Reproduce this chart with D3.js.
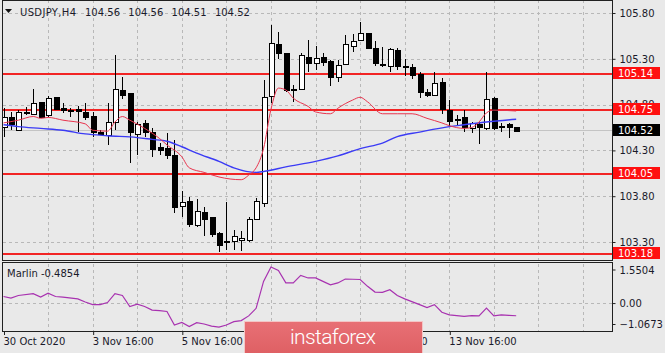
<!DOCTYPE html>
<html lang="en">
<head>
<meta charset="utf-8" />
<title>USDJPY H4</title>
<script src="https://cdnjs.cloudflare.com/ajax/libs/d3/7.8.5/d3.min.js"></script>
<style>
    body { margin: 0; background: #e9e9e9; }
    svg text { font-family: "DejaVu Sans", sans-serif; font-size: 10px; fill: #1a1a2a; }
    .crisp { shape-rendering: crispEdges; }
</style>
</head>
<body>
<script>
    // candles, one per H4 bar
    const opens  = [104.559,104.668,104.530,104.720,104.705,104.828,104.679,104.880,104.760,104.742,
                    104.749,104.716,104.676,104.504,104.468,104.607,104.959,104.923,104.479,104.602,
                    104.504,104.334,104.330,104.250,103.693,103.751,103.486,103.624,103.570,103.402,
                    103.311,103.314,103.314,103.322,103.551,103.729,104.894,105.462,105.360,104.970,
                    104.967,105.323,105.251,105.316,105.276,105.105,105.240,105.443,105.505,105.578,
                    105.415,105.245,105.221,105.396,105.221,105.214,105.134,104.934,104.905,105.043,
                    104.741,104.640,104.661,104.552,104.588,104.541,104.875,104.570,104.588,104.560];
    const highs  = [104.760,104.723,104.741,104.777,104.967,104.832,104.894,104.886,104.821,104.766,
                    104.788,104.814,104.723,104.523,104.814,105.341,105.098,104.930,104.613,104.632,
                    104.541,104.377,104.487,104.414,103.857,103.795,103.766,103.685,103.576,103.410,
                    103.740,103.431,103.424,103.576,103.777,105.069,105.669,105.596,105.360,105.014,
                    105.360,105.505,105.440,105.367,105.287,105.287,105.560,105.571,105.705,105.580,
                    105.498,105.432,105.415,105.415,105.295,105.240,105.159,104.967,105.159,105.094,
                    104.850,104.686,104.741,104.613,104.613,105.159,104.886,104.602,104.596,104.560];
    const lows   = [104.450,104.523,104.523,104.686,104.697,104.650,104.668,104.741,104.712,104.668,
                    104.498,104.632,104.443,104.479,104.359,104.523,104.858,104.159,104.250,104.450,
                    104.225,104.250,104.206,103.620,103.576,103.467,103.467,103.365,103.358,103.190,
                    103.213,103.213,103.205,103.303,103.540,103.685,104.814,105.295,104.941,104.832,
                    104.959,105.159,105.178,105.221,105.006,105.050,105.232,105.378,105.498,105.404,
                    105.221,105.214,105.159,105.178,105.112,105.076,104.875,104.880,104.894,104.697,
                    104.559,104.577,104.504,104.493,104.370,104.523,104.523,104.504,104.432,104.510];
    const closes = [104.668,104.588,104.723,104.715,104.821,104.668,104.869,104.752,104.733,104.738,
                    104.723,104.661,104.501,104.487,104.607,104.967,104.905,104.493,104.588,104.504,
                    104.323,104.304,104.257,103.685,103.733,103.497,103.642,103.548,103.387,103.267,
                    103.297,103.366,103.340,103.551,103.748,104.886,105.476,105.360,104.959,104.966,
                    105.341,105.257,105.305,105.257,105.105,105.232,105.462,105.494,105.585,105.415,
                    105.251,105.240,105.404,105.221,105.207,105.123,104.941,104.901,105.033,104.749,
                    104.624,104.635,104.552,104.602,104.552,104.858,104.552,104.566,104.552,104.520];

    // moving averages (bar index, price)
    const maFastBars = [0,2,4,5,6,8,11,12,14,15,16,17,19,21,22,24,25,27,29,32,33,34,35,36,37,38,39,41,42,44,45,47,48,49,51,53,55,57,59,60,62,63,64,65,66,69];
    const maFastVals = [104.60,104.63,104.67,104.65,104.66,104.63,104.59,104.52,104.51,104.61,104.67,104.63,104.54,104.43,104.36,104.23,104.11,104.06,104.01,103.98,104.03,104.11,104.32,104.75,104.98,104.96,104.87,104.78,104.72,104.70,104.76,104.85,104.88,104.83,104.70,104.70,104.70,104.65,104.60,104.57,104.54,104.55,104.61,104.71,104.74,104.73];
    const maSlowBars = [0,2,5,8,11,14,18,20,22,24,26,29,31,34,35,38,42,45,48,51,53,56,60,62,65,69];
    const maSlowVals = [104.58,104.56,104.54,104.52,104.48,104.46,104.44,104.42,104.40,104.34,104.27,104.18,104.11,104.06,104.07,104.12,104.18,104.24,104.32,104.38,104.45,104.50,104.56,104.58,104.61,104.64];

    // Marlin oscillator (bar index, value)
    const marlinBars = [0,1,2,4,5,6,7,8,10,11,12,13,14,15,16,17,18,19,20,21,22,23,24,25,26,27,28,29,30,31,32,33,34,35,36,37,38,39,40,41,42,43,44,45,46,47,48,49,50,51,52,53,54,56,57,58,59,60,61,62,63,64,65,66,67,68,69];
    const marlinVals = [0.25,0.19,0.29,0.36,0.23,0.38,0.25,0.23,0.16,0.04,-0.06,-0.06,0.02,0.36,0.29,-0.13,-0.04,-0.13,-0.27,-0.29,-0.32,-0.84,-0.74,-0.90,-0.75,-0.80,-0.88,-0.92,-0.84,-0.71,-0.67,-0.49,-0.20,0.83,1.38,1.25,0.77,0.77,1.06,0.96,0.96,0.83,0.70,0.77,0.92,0.91,0.90,0.64,0.42,0.41,0.51,0.29,0.16,-0.06,-0.17,-0.06,-0.35,-0.45,-0.48,-0.51,-0.48,-0.49,-0.19,-0.49,-0.45,-0.47,-0.4854];

    const levels = [105.14, 104.75, 104.05, 103.18];
    const lastPrice = 104.52;
    const quote = ["104.56", "104.56", "104.51", "104.52"];
    const priceTicks = [105.80, 105.30, 104.80, 104.30, 103.80, 103.30];
    const marlinTicks = [1.5504, 0.00, -1.0673];
    const timeLabels = ["30 Oct 2020", "3 Nov 16:00", "5 Nov 16:00", "9 Nov 16:00", "11 Nov 16:00", "13 Nov 16:00"];
    const timeLabelBars = [0, 12, 24, 36, 48, 60];

    const W = 665, H = 353;
    const left = 3, right = 612;
    const mainTop = 1, mainBottom = 260.5;
    const indTop = 262.5, indBottom = 331;

    const svg = d3.select("body").append("svg")
        .attr("width", W).attr("height", H);

    svg.append("rect").attr("width", W).attr("height", H).attr("fill", "#e9e9e9");

    // scales
    const x = d3.scaleLinear().domain([0, 60]).range([3.5, 449.3]);
    const y = d3.scaleLinear().domain([103.30, 105.80]).range([242, 13]);
    const ym = d3.scaleLinear().domain([-1.0673, 1.5504]).range([indBottom, indTop]);
    const py = v => Math.round(y(v)) + 0.5;

    const defs = svg.append("defs");
    defs.append("clipPath").attr("id", "clipMain").append("rect")
        .attr("x", left).attr("y", mainTop).attr("width", right - left).attr("height", mainBottom - mainTop);
    defs.append("clipPath").attr("id", "clipInd").append("rect")
        .attr("x", left).attr("y", indTop).attr("width", right - left).attr("height", indBottom - indTop);

    const main = svg.append("g").attr("clip-path", "url(#clipMain)");
    const ind = svg.append("g").attr("clip-path", "url(#clipInd)");

    // grid
    const gridBars = d3.range(6, 80, 6);
    [main, ind].forEach(g => {
        g.selectAll("line.vgrid").data(gridBars).join("line")
            .attr("class", "vgrid crisp")
            .attr("x1", d => Math.round(x(d)) + 0.5).attr("x2", d => Math.round(x(d)) + 0.5)
            .attr("y1", 0).attr("y2", H)
            .attr("stroke", "#b8b8b8").attr("stroke-dasharray", "3,3");
    });
    main.selectAll("line.hgrid").data(priceTicks).join("line")
        .attr("class", "hgrid crisp")
        .attr("x1", left).attr("x2", right)
        .attr("y1", py).attr("y2", py)
        .attr("stroke", "#b8b8b8").attr("stroke-dasharray", "3,3");
    ind.append("line").attr("class", "crisp")
        .attr("x1", left).attr("x2", right)
        .attr("y1", Math.round(ym(0)) + 0.5).attr("y2", Math.round(ym(0)) + 0.5)
        .attr("stroke", "#b8b8b8").attr("stroke-dasharray", "3,3");

    // last price line + horizontal levels (a bit wider so the red survives)
    main.append("line").attr("class", "crisp")
        .attr("x1", left).attr("x2", right)
        .attr("y1", py(lastPrice)).attr("y2", py(lastPrice))
        .attr("stroke", "#c4c4c4");
    main.selectAll("line.level").data(levels).join("line")
        .attr("class", "level")
        .attr("x1", left).attr("x2", right)
        .attr("y1", d => Math.round(y(d)) + 1).attr("y2", d => Math.round(y(d)) + 1)
        .attr("stroke", "#f22424").attr("stroke-width", 2);

    // candles
    const bars = d3.range(opens.length);
    const cx = i => Math.round(x(i)) + 0.5;
    main.selectAll("line.wick").data(bars).join("line")
        .attr("class", "wick crisp")
        .attr("x1", cx).attr("x2", cx)
        .attr("y1", i => y(highs[i])).attr("y2", i => y(lows[i]))
        .attr("stroke", "#000");
    main.selectAll("rect.body").data(bars).join("rect")
        .attr("class", "body crisp")
        .attr("x", i => cx(i) - 2.5)
        .attr("width", 5)
        .attr("y", i => py(Math.max(opens[i], closes[i])))
        .attr("height", i => Math.max(1, Math.round(Math.abs(y(opens[i]) - y(closes[i])))))
        .attr("fill", i => closes[i] >= opens[i] ? "#fff" : "#000")
        .attr("stroke", "#000");

    // moving averages
    const maLine = d3.line().x(d => x(d[0])).y(d => y(d[1])).curve(d3.curveMonotoneX);
    main.append("path")
        .datum(maSlowBars.map((b, i) => [b, maSlowVals[i]]))
        .attr("d", maLine).attr("fill", "none")
        .attr("stroke", "#3b3bf5").attr("stroke-width", 1.4);
    main.append("path")
        .datum(maFastBars.map((b, i) => [b, maFastVals[i]]))
        .attr("d", maLine).attr("fill", "none")
        .attr("stroke", "#e8344e").attr("stroke-width", 1);

    // Marlin
    ind.append("path")
        .datum(marlinBars.map((b, i) => [b, marlinVals[i]]))
        .attr("d", d3.line().x(d => x(d[0])).y(d => ym(d[1])))
        .attr("fill", "none").attr("stroke", "#a832b0").attr("stroke-width", 1.2);

    // pane borders
    svg.append("rect").attr("class", "crisp").attr("x", left - 0.5).attr("y", mainTop - 0.5)
        .attr("width", right - left + 1).attr("height", mainBottom - mainTop + 0.5)
        .attr("fill", "none").attr("stroke", "#202020");
    svg.append("rect").attr("class", "crisp").attr("x", left - 0.5).attr("y", indTop)
        .attr("width", right - left + 1).attr("height", indBottom - indTop)
        .attr("fill", "none").attr("stroke", "#202020");

    // price axis
    const yAxis = d3.axisRight(y).tickValues(priceTicks).tickFormat(d3.format(".2f")).tickSize(3).tickPadding(4);
    const gy = svg.append("g").attr("transform", `translate(${right + 0.5},0)`).call(yAxis);
    gy.select(".domain").remove();
    gy.selectAll("line").attr("stroke", "#202020");
    gy.selectAll("text").style("font-family", "DejaVu Sans").style("font-size", "10px").attr("fill", "#1a1a2a");

    // marlin axis
    const mAxis = d3.axisRight(ym).tickValues(marlinTicks).tickSize(3).tickPadding(4)
        .tickFormat(d => d === 0 ? "0.00" : d3.format(".4f")(d));
    const gm = svg.append("g").attr("transform", `translate(${right + 0.5},0)`).call(mAxis);
    gm.select(".domain").remove();
    gm.selectAll("line").attr("stroke", "#202020");
    gm.selectAll("text").style("font-family", "DejaVu Sans").style("font-size", "10px").attr("fill", "#1a1a2a")
        .attr("dy", (d, i) => i === 0 ? "1.1em" : (i === 2 ? "-0.35em" : "0.32em"));
    gm.selectAll(".tick line")
        .attr("transform", (d, i) => i === 0 ? "translate(0,7)" : (i === 2 ? "translate(0,-7)" : null));

    // price boxes on the axis
    const boxes = levels.map(v => ({ v, fill: "#ff1010" })).concat([{ v: lastPrice, fill: "#000" }]);
    const gb = svg.append("g").selectAll("g").data(boxes).join("g")
        .attr("transform", d => `translate(${right + 1},${Math.round(y(d.v))})`);
    gb.append("rect").attr("x", 0).attr("y", -6).attr("width", 47).attr("height", 12).attr("fill", d => d.fill);
    gb.append("text").attr("x", 5).attr("y", 0).attr("dy", "0.36em")
        .style("fill", "#fff").text(d => d3.format(".2f")(d.v));

    // time axis
    const xAxis = d3.axisBottom(x).tickValues(timeLabelBars).tickSize(4).tickPadding(3)
        .tickFormat((d, i) => timeLabels[i]);
    const gx = svg.append("g").attr("transform", `translate(0.5,${indBottom})`).call(xAxis);
    gx.select(".domain").remove();
    gx.selectAll("line").attr("stroke", "#202020");
    gx.selectAll("text").attr("text-anchor", "start").attr("x", -1)
        .style("font-family", "DejaVu Sans").style("font-size", "10px").attr("fill", "#1a1a2a");

    // title line
    svg.append("path").attr("d", "M5,9 L12,9 L8.5,13 Z").attr("fill", "#111");
    svg.append("text").attr("x", 20).attr("y", 16).attr("textLength", 56).text("USDJPY,H4");
    svg.selectAll("text.quote").data(quote).join("text")
        .attr("class", "quote")
        .attr("x", (d, i) => 85 + i * 43.3).attr("y", 16).text(d => d);
    svg.append("text").attr("x", 7).attr("y", 277).text("Marlin -0.4854");

    // watermark logo
    const grad = defs.append("linearGradient").attr("id", "logoGrad").attr("x1", 0).attr("y1", 0).attr("x2", 0).attr("y2", 1);
    grad.append("stop").attr("offset", "0%").attr("stop-color", "#e87075");
    grad.append("stop").attr("offset", "100%").attr("stop-color", "#de5f63");
    svg.append("rect").attr("x", 244.5).attr("y", 321.5).attr("width", 178).attr("height", 34)
        .attr("fill", "url(#logoGrad)").attr("stroke", "#f3c6c6").attr("stroke-width", 1);
    svg.append("text").attr("x", 333).attr("y", 344).attr("text-anchor", "middle")
        .attr("textLength", 86)
        .style("font-family", "Roboto").style("font-weight", 300).style("font-size", "21px")
        .style("fill", "#fff").text("instaforex");
</script>
</body>
</html>
